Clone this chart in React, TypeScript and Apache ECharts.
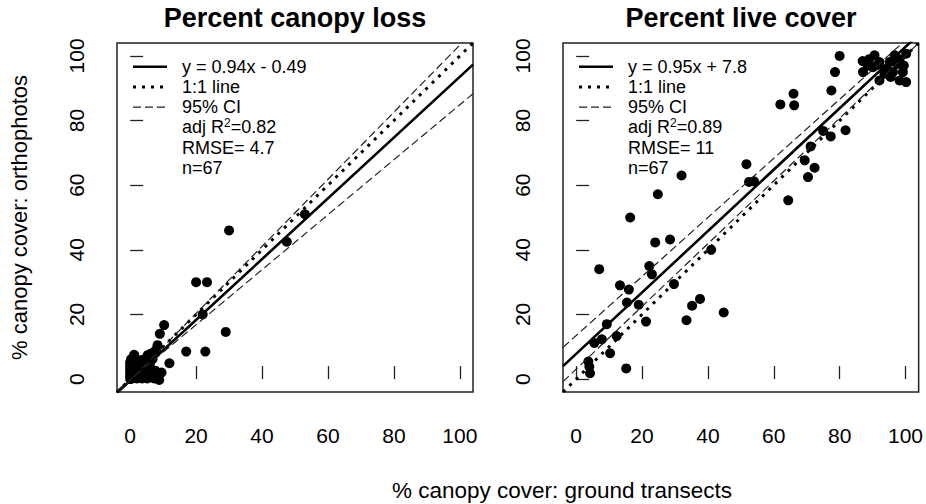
import React, { useEffect, useRef } from "react";
import * as echarts from "echarts";

const FONT = "'Liberation Sans', Arial, Helvetica, sans-serif";

const xTicks = [0, 20, 40, 60, 80, 100];
const yTicks = [0, 20, 40, 60, 80, 100];

const panelTitles = ["Percent canopy loss", "Percent live cover"];
const xAxisTitle = "% canopy cover: ground transects";
const yAxisTitle = "% canopy cover: orthophotos";

// Percent canopy loss: [ground transect, orthophoto]
const lossPoints: [number, number][] = [
  [0, 0], [0, 0.8], [0, 1.6], [0, 2.5], [0, 3.4], [0, 4.3], [0, 5.2], [0.3, 6.2],
  [0.6, 0.2], [0.8, 1.2], [1, 2.2], [1, 3.2], [1.2, 7.5], [1.3, 0.4], [1.5, 1.5],
  [1.7, 4.8], [2, 0.2], [2, 2.6], [2.3, 1.2], [2.5, 3.8], [2.8, 0.6], [3, 2],
  [3.2, 1], [3.5, 3], [3.6, 0.2], [4, 1.6], [4.2, 2.6], [4.5, 0.6], [4.8, 4.2],
  [5, 1.8], [5.2, 0.2], [5.5, 2.8], [5.8, 1.2], [6, 3.6], [6.3, 0.6], [6.6, 2.2],
  [7, 1.2], [7.3, 0.2], [7.6, 2.6], [8, 1.5], [8.8, -0.3], [5.3, 7.4], [6.8, 6.2],
  [7.8, 9], [8.3, 10.5], [3, 5.5], [2, 5], [4, 4.5], [1.5, 6.5], [6, 5], [0.5, 4],
  [9.5, 2], [3.8, 6], [6.3, 7.9], [2.5, 0.8],
  [53, 51], [47.5, 42.5], [30, 46], [20, 30], [23.3, 30], [22, 20], [29, 14.6],
  [17, 8.5], [22.8, 8.5], [10.3, 16.7], [9, 14], [11.9, 4.9],
];

// Percent live cover: [ground transect, orthophoto]
const livePoints: [number, number][] = [
  [80, 100], [78.6, 95], [77.5, 89.3], [62, 85], [66, 88.3], [66.2, 84.7],
  [81.8, 77], [75, 76.8], [77.3, 75.1], [71.2, 72], [69.4, 67.7], [72.4, 65.4],
  [70.4, 62.5], [64.4, 55.3], [51.7, 66.5], [52.5, 61], [54, 61.2], [32, 63],
  [24.8, 57.2], [16.4, 50], [24, 42.3], [28.5, 43.2], [41, 40], [7, 34],
  [22.2, 35], [23, 32.4], [13.3, 29], [16, 27.7], [15.4, 23.7], [19, 23],
  [29.7, 29.4], [37.6, 24.8], [35.2, 22.7], [33.5, 18.2], [21.2, 17.8],
  [44.8, 20.6], [9.3, 17], [5.5, 11.2], [7.8, 12.3], [12.3, 13.3], [10.3, 8],
  [15.2, 3.3], [3.7, 5.4], [4, 3.8], [4.2, 1.8],
  [87, 98.4], [90.6, 100.2], [87.1, 95], [90.1, 96.5], [92.1, 98.1], [95.2, 98.1],
  [96.7, 100.2], [100.2, 100.7], [94.2, 96], [96.2, 95], [99.2, 95], [100.2, 91.9],
  [98.2, 92.4], [92.1, 92.4], [88.5, 97], [93.6, 94.5], [97.5, 97.5], [98.2, 99],
  [91.5, 97.2], [95.5, 93.5], [89, 99], [99.5, 97],
];

// Reference lines (end points across the plotting range)
const lossFit: [number, number][] = [[-4, -4.25], [104, 97.3]];
const lossCiUpper: [number, number][] = [[-4, -4.6], [104, 107.5]];
const lossCiLower: [number, number][] = [[-4, -3.6], [104, 88.3]];
const liveFit: [number, number][] = [[-4, 4.0], [104, 106.6]];
const liveCiUpper: [number, number][] = [[-4, 9.8], [104, 108.5]];
const liveCiLower: [number, number][] = [[-4, -0.8], [104, 104]];
const oneToOne: [number, number][] = [[-4, -4], [104, 104]];

const lossLegend = ["y = 0.94x - 0.49", "1:1 line", "95% CI", "adj R{sup|2}=0.82", "RMSE= 4.7", "n=67"];
const liveLegend = ["y = 0.95x + 7.8", "1:1 line", "95% CI", "adj R{sup|2}=0.89", "RMSE= 11", "n=67"];

const GRID_TOP = 43;
const GRID_H = 349;
const GRID_W = 356;
const GRID_LEFTS = [117, 563];

const solidStyle = { color: "#000", width: 2.6, type: "solid" as const };
const dottedStyle = { color: "#000", width: 3, type: [3, 6] as number[], cap: "butt" as const };
const dashedStyle = { color: "#222", width: 1.2, type: [8, 4] as number[] };

function legendGraphics(left: number, labels: string[]) {
  const sx1 = left + 16;
  const sx2 = left + 50;
  const tx = left + 65;
  const rowY = (i: number) => 66.7 + i * 20.25;
  const els: any[] = [];
  els.push({ type: "line", shape: { x1: sx1, y1: rowY(0), x2: sx2, y2: rowY(0) }, style: { stroke: "#000", lineWidth: 2.6 } });
  els.push({ type: "line", shape: { x1: sx1, y1: rowY(1), x2: sx2, y2: rowY(1) }, style: { stroke: "#000", lineWidth: 3, lineDash: [3, 6] } });
  els.push({ type: "line", shape: { x1: sx1, y1: rowY(2), x2: sx2, y2: rowY(2) }, style: { stroke: "#222", lineWidth: 1.2, lineDash: [8, 4] } });
  labels.forEach((t, i) => {
    els.push({
      type: "text",
      x: tx,
      y: rowY(i),
      style: {
        text: t,
        fontSize: 18,
        fontFamily: FONT,
        fill: "#000",
        align: "left",
        verticalAlign: "middle",
        rich: { sup: { fontSize: 12, fontFamily: FONT, fill: "#000", padding: [0, 0, 9, 0] } },
      },
    });
  });
  return els;
}

function axisPair(gridIndex: number) {
  const tick = { show: true, inside: true, length: 13, lineStyle: { color: "#222", width: 1.3 } };
  return {
    x: {
      type: "value",
      gridIndex,
      min: -4,
      max: 104,
      axisLine: { show: false },
      splitLine: { show: false },
      axisTick: { ...tick, customValues: xTicks },
      axisLabel: { customValues: xTicks, margin: 33, fontSize: 21, fontFamily: FONT, color: "#000" },
    },
    y: {
      type: "value",
      gridIndex,
      min: -4,
      max: 104,
      axisLine: { show: false },
      splitLine: { show: false },
      axisTick: { ...tick, customValues: yTicks },
      axisLabel: { customValues: yTicks, margin: 30, rotate: 90, fontSize: 21, fontFamily: FONT, color: "#000" },
    },
  };
}

function lineSeries(idx: number, data: [number, number][], style: any, z = 3) {
  return {
    type: "line",
    xAxisIndex: idx,
    yAxisIndex: idx,
    data,
    symbol: "none",
    showSymbol: false,
    clip: true,
    lineStyle: style,
    z,
    silent: true,
  };
}

export default function App() {
  const ref = useRef<HTMLDivElement>(null);
  useEffect(() => {
    if (!ref.current) return;
    const chart = echarts.init(ref.current, null, { renderer: "svg" });
    const a0 = axisPair(0);
    const a1 = axisPair(1);
    const dot = { symbolSize: 10, itemStyle: { color: "#000", opacity: 1 }, z: 2 };
    const option: any = {
      animation: false,
      backgroundColor: "#fff",
      grid: GRID_LEFTS.map((l) => ({
        left: l,
        top: GRID_TOP,
        width: GRID_W,
        height: GRID_H,
        show: true,
        borderColor: "#222",
        borderWidth: 1.5,
        backgroundColor: "transparent",
      })),
      xAxis: [a0.x, a1.x],
      yAxis: [a0.y, a1.y],
      series: [
        { type: "scatter", xAxisIndex: 0, yAxisIndex: 0, data: lossPoints, ...dot },
        { type: "scatter", xAxisIndex: 1, yAxisIndex: 1, data: livePoints, ...dot },
        lineSeries(0, lossFit, solidStyle),
        lineSeries(0, oneToOne, dottedStyle),
        lineSeries(0, lossCiUpper, dashedStyle),
        lineSeries(0, lossCiLower, dashedStyle),
        lineSeries(1, liveFit, solidStyle),
        lineSeries(1, oneToOne, dottedStyle),
        lineSeries(1, liveCiUpper, dashedStyle),
        lineSeries(1, liveCiLower, dashedStyle),
      ],
      graphic: [
        ...GRID_LEFTS.map((l, i) => ({
          type: "text",
          x: l + GRID_W / 2,
          y: 18,
          style: { text: panelTitles[i], fontSize: 27, fontWeight: "bold", fontFamily: FONT, fill: "#000", align: "center", verticalAlign: "middle" },
        })),
        {
          type: "text",
          x: 562,
          y: 490,
          style: { text: xAxisTitle, fontSize: 22.5, fontFamily: FONT, fill: "#000", align: "center", verticalAlign: "middle" },
        },
        {
          type: "text",
          x: 19,
          y: GRID_TOP + GRID_H / 2,
          rotation: Math.PI / 2,
          style: { text: yAxisTitle, fontSize: 22, fontFamily: FONT, fill: "#000", align: "center", verticalAlign: "middle" },
        },
        ...legendGraphics(GRID_LEFTS[0], lossLegend),
        ...legendGraphics(GRID_LEFTS[1], liveLegend),
      ],
    };
    chart.setOption(option);
    return () => chart.dispose();
  }, []);
  return (
    <div
      ref={ref}
      style={{ position: "fixed", left: 0, top: 0, width: 926, height: 504, background: "#fff" }}
    />
  );
}
